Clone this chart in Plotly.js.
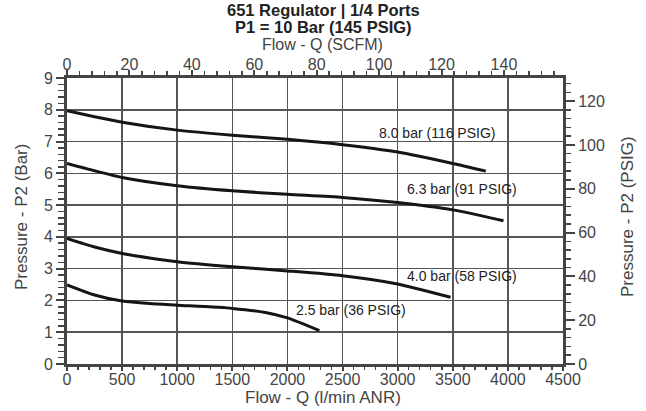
<!DOCTYPE html>
<html>
<head>
<meta charset="utf-8">
<script src="https://cdn.plot.ly/plotly-3.0.1.min.js"></script>
<style>html,body{margin:0;padding:0;background:#fff;}#chart{width:646px;height:411px;}</style>
</head>
<body>
<div id="chart"></div>
<script>
// Flow in l/min ANR, pressure P2 in bar
const flow80 = [0, 250, 500, 1000, 1500, 2000, 2500, 3000, 3500, 3800];
const p80    = [7.97, 7.78, 7.61, 7.36, 7.20, 7.07, 6.90, 6.67, 6.31, 6.07];
const flow63 = [0, 250, 500, 1000, 1500, 2000, 2500, 3000, 3500, 3960];
const p63    = [6.31, 6.08, 5.87, 5.61, 5.45, 5.34, 5.24, 5.08, 4.85, 4.51];
const flow40 = [0, 250, 500, 1000, 1500, 2000, 2500, 3000, 3480];
const p40    = [3.95, 3.68, 3.48, 3.22, 3.06, 2.93, 2.78, 2.52, 2.10];
const flow25 = [0, 250, 500, 750, 1000, 1500, 1800, 2000, 2290];
const p25    = [2.49, 2.17, 1.98, 1.90, 1.85, 1.75, 1.62, 1.45, 1.05];

const seriesLabels = ['8.0 bar (116 PSIG)', '6.3 bar (91 PSIG)', '4.0 bar (58 PSIG)', '2.5 bar (36 PSIG)'];
const labelFlow = [2815, 3070, 3070, 2060];
const labelP    = [7.27, 5.51, 2.77, 1.70];

const titleLines = ['651 Regulator | 1/4 Ports', 'P1 = 10 Bar (145 PSIG)'];
const axisTitles = {bottom: 'Flow - Q (l/min ANR)', top: 'Flow - Q (SCFM)', left: 'Pressure - P2 (Bar)', right: 'Pressure - P2 (PSIG)'};

const flowMax = 4500;          // l/min
const pMax = 9;                // bar
const LPM_PER_SCFM = 28.317;
const PSI_PER_BAR = 14.5038;
const scfmTicks = [0, 20, 40, 60, 80, 100, 120, 140];
const psigTicks = [0, 20, 40, 60, 80, 100, 120];

const lineStyle = {color: '#151515', width: 3, shape: 'spline', smoothing: 0.6};
const mk = (x, y) => ({x: x, y: y, type: 'scatter', mode: 'lines', line: lineStyle, hoverinfo: 'skip', showlegend: false});

const traces = [mk(flow80, p80), mk(flow63, p63), mk(flow40, p40), mk(flow25, p25),
  {x: [0], y: [0], xaxis: 'x2', yaxis: 'y2', mode: 'markers', marker: {opacity: 0}, showlegend: false, hoverinfo: 'skip', type: 'scatter'}];

const FAM = 'Liberation Sans, Arial, Helvetica, sans-serif';
const axisColor = '#444';
const tickFont = {family: FAM, size: 16, color: '#444'};
const axTitleFont = {family: FAM, size: 17, color: '#444'};

// plot area in pixels: x 67..563, y 78..364
const PL = 67, PR = 563, PT = 78, PB = 364;
const px2x = px => (px - PL) / (PR - PL);
const py2y = py => (PB - py) / (PB - PT);

const annotations = seriesLabels.map((t, i) => ({
  x: labelFlow[i], y: labelP[i], xref: 'x', yref: 'y', text: t, showarrow: false,
  xanchor: 'left', yanchor: 'middle',
  font: {family: FAM, size: 14, color: '#222'}
}));
annotations.push(
  {text: '<b>' + titleLines[0] + '</b>', xref: 'paper', yref: 'paper', x: px2x(323), y: py2y(10.5), showarrow: false, xanchor: 'center', yanchor: 'middle', font: {family: FAM, size: 16.5, color: '#222'}},
  {text: '<b>' + titleLines[1] + '</b>', xref: 'paper', yref: 'paper', x: px2x(323), y: py2y(27), showarrow: false, xanchor: 'center', yanchor: 'middle', font: {family: FAM, size: 16.5, color: '#222'}},
  {text: axisTitles.top, xref: 'paper', yref: 'paper', x: px2x(322), y: py2y(44.5), showarrow: false, xanchor: 'center', yanchor: 'middle', font: {family: FAM, size: 16, color: '#444'}},
  {text: axisTitles.bottom, xref: 'paper', yref: 'paper', x: px2x(323), y: py2y(397), showarrow: false, xanchor: 'center', yanchor: 'middle', font: axTitleFont},
  {text: axisTitles.left, xref: 'paper', yref: 'paper', x: px2x(21), y: py2y(217), showarrow: false, xanchor: 'center', yanchor: 'middle', textangle: -90, font: axTitleFont},
  {text: axisTitles.right, xref: 'paper', yref: 'paper', x: px2x(627), y: py2y(217), showarrow: false, xanchor: 'center', yanchor: 'middle', textangle: -90, font: axTitleFont}
);

const layout = {
  width: 646, height: 411,
  margin: {l: PL, r: 646 - PR, t: PT, b: 411 - PB},
  paper_bgcolor: '#fff', plot_bgcolor: '#fff',
  xaxis: {
    range: [0, flowMax], dtick: 500, tick0: 0,
    showgrid: true, gridcolor: '#555', gridwidth: 1.5,
    showline: true, linecolor: axisColor, linewidth: 3,
    ticks: 'outside', ticklen: 4, tickwidth: 2, tickcolor: axisColor,
    minor: {dtick: 100, ticklen: 3, tickwidth: 1.5, tickcolor: axisColor, showgrid: false},
    tickfont: tickFont, zeroline: false, ticklabelstandoff: -5
  },
  xaxis2: {
    overlaying: 'x', side: 'top', range: [0, flowMax / LPM_PER_SCFM],
    tickvals: scfmTicks, showgrid: false,
    showline: true, linecolor: axisColor, linewidth: 3,
    ticks: 'outside', ticklen: 5, tickwidth: 2, tickcolor: axisColor,
    minor: {dtick: 4, tick0: 0, ticklen: 4, tickwidth: 1.5, tickcolor: axisColor, showgrid: false},
    tickfont: tickFont, zeroline: false, ticklabelstandoff: -6
  },
  yaxis: {
    range: [0, pMax], dtick: 1, tick0: 0,
    showgrid: true, gridcolor: '#555', gridwidth: 1.5,
    showline: true, linecolor: axisColor, linewidth: 3,
    ticks: 'outside', ticklen: 8, tickwidth: 2, tickcolor: axisColor,
    minor: {dtick: 0.2, ticklen: 6, tickwidth: 1.5, tickcolor: axisColor, showgrid: false},
    tickfont: tickFont, zeroline: false
  },
  yaxis2: {
    overlaying: 'y', side: 'right', range: [0, pMax * PSI_PER_BAR],
    tickvals: psigTicks, showgrid: false,
    showline: true, linecolor: axisColor, linewidth: 3,
    ticks: 'outside', ticklen: 9, tickwidth: 2, tickcolor: axisColor,
    minor: {dtick: 4, tick0: 0, ticklen: 5, tickwidth: 1.5, tickcolor: axisColor, showgrid: false},
    tickfont: tickFont, zeroline: false
  },
  annotations: annotations
};

Plotly.newPlot('chart', traces, layout, {displayModeBar: false, staticPlot: true});
</script>
</body>
</html>
